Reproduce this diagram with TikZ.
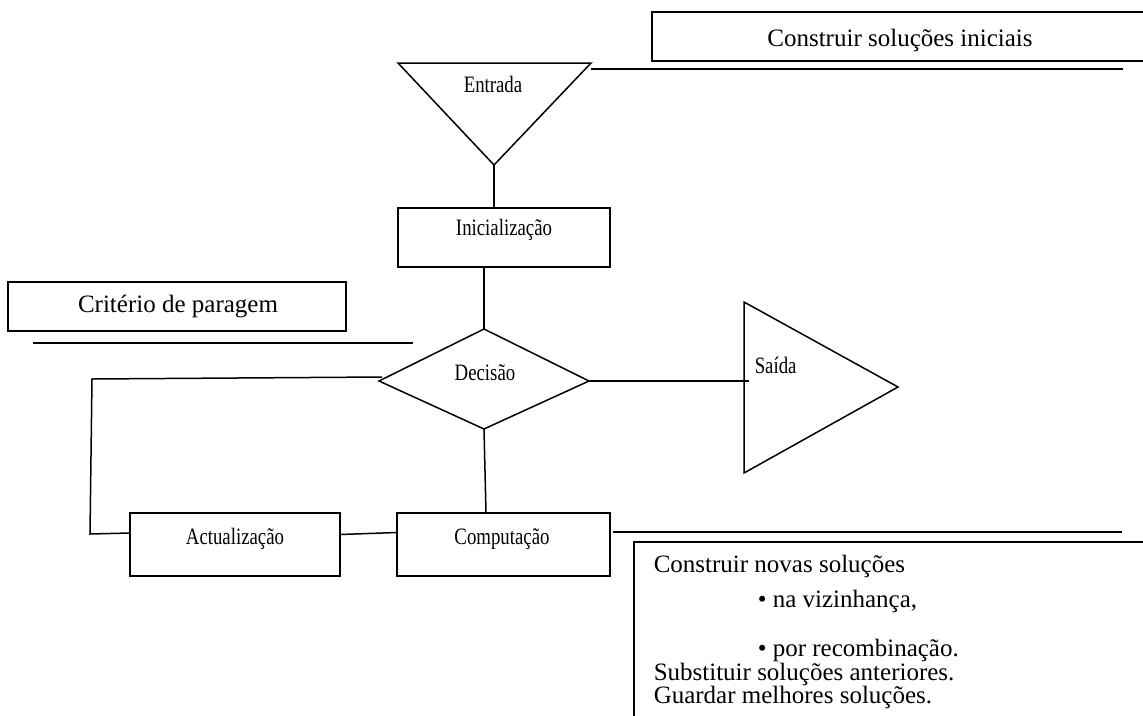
\documentclass[tikz,border=0pt]{standalone}
\usepackage{fontspec}
\setmainfont{Liberation Serif}
\newfontfamily\narrowserif[FakeStretch=0.8]{Liberation Serif}
\begin{document}
\begin{tikzpicture}[x=1pt,y=-1pt,
  line width=1.5pt, line join=miter,
  frame/.style={draw, line width=1.5pt, inner sep=0pt, outer sep=0pt},
  lbl/.style={font=\narrowserif\fontsize{23.5}{28}\selectfont, inner sep=0pt, anchor=base},
  note/.style={font=\fontsize{25}{30}\selectfont, inner sep=0pt, anchor=base},
  notew/.style={note, anchor=base west},
  ]
\useasboundingbox (0,0) rectangle (1143,715);
\fill[white] (0,0) rectangle (1143,715);
\clip (0,0) rectangle (1143,715);

% ---- flowchart shapes ----
% input funnel
\coordinate (entL) at (398,63);
\coordinate (entR) at (591,63);
\coordinate (entT) at (494,165);
\draw (entL) -- (entR) -- (entT) -- cycle;
\node[lbl] (entrada) at (493,92) {Entrada};

% initialisation box
\node[frame, minimum width=212, minimum height=59] (ini) at (504,237.5) {};
\node[lbl] (initxt) at (504,235) {Inicialização};

% decision diamond
\coordinate (decT) at (484,329);
\coordinate (decL) at (379,381);
\coordinate (decB) at (484,429);
\coordinate (decR) at (589,381);
\draw (decT) -- (decR) -- (decB) -- (decL) -- cycle;
\node[lbl] (dectxt) at (485,380) {Decisão};

% output triangle
\coordinate (saiA) at (744,302);
\coordinate (saiB) at (744,473);
\coordinate (saiC) at (898,387);
\draw (saiA) -- (saiC) -- (saiB) -- cycle;
\node[lbl, anchor=base west] (saitxt) at (754,373) {Saída};

% update and computation boxes
\node[frame, minimum width=210, minimum height=63] (act) at (235,544.5) {};
\node[lbl] (acttxt) at (235,544) {Actualização};
\node[frame, minimum width=213, minimum height=63] (comp) at (503.5,544.5) {};
\node[lbl] (comptxt) at (502,544) {Computação};

% ---- connectors ----
\draw (entT) -- (entT |- ini.north);
\draw (decT |- ini.south) -- (decT);
\coordinate (saiJ) at (749,381);
\draw (decR) -- (saiJ);
\coordinate (compTop) at (486,513);
\draw (decB) -- (compTop);
\draw ([yshift=10]act.east) -- ([yshift=12]comp.west);
\coordinate (loopA) at (92,379);
\coordinate (loopB) at (90,534);
\draw ([shift={(3,-4)}]decL) -- (loopA) -- (loopB) -- ([yshift=11.5]act.west);

% ---- annotations ----
\node[frame, minimum width=508, minimum height=49] (topbox) at (906,36.5) {};
\node[note] (toptxt) at (900,46) {Construir soluções iniciais};
\coordinate (topA) at (591,69);
\coordinate (topB) at (1123,69);
\draw (topA) -- (topB);

\node[frame, minimum width=338, minimum height=49] (critbox) at (177,306.5) {};
\node[note] (crittxt) at (178,312) {Critério de paragem};
\coordinate (critA) at (33,343);
\coordinate (critB) at (413,343);
\draw (critA) -- (critB);

\coordinate (compA) at (613,532);
\coordinate (compB) at (1122,532);
\draw (compA) -- (compB);
\node[frame, minimum width=526, minimum height=188] (newbox) at (897,636) {};
\node[notew] (n1) at (653,572) {Construir novas soluções};
\node[notew] (n2) at (757,607) {• na vizinhança,};
\node[notew] (n3) at (757,656) {• por recombinação.};
\node[notew] (n4) at (653,680) {Substituir soluções anteriores.};
\node[notew] (n5) at (653,703) {Guardar melhores soluções.};
\end{tikzpicture}
\end{document}
